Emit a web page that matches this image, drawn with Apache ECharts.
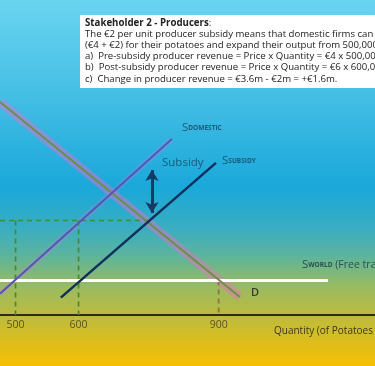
<!DOCTYPE html>
<html>
<head>
<meta charset="utf-8">
<script src="https://cdn.jsdelivr.net/npm/echarts@6/dist/echarts.min.js"></script>
<style>
html,body{margin:0;padding:0;width:375px;height:366px;overflow:hidden;}
#chart{width:375px;height:366px;}
</style>
</head>
<body>
<div id="chart"></div>
<script>
// ---- data (quantity in '000 potatoes, price in €) ----
const quantityTicks = [500, 600, 900];
const demandD = [[478, 9.95], [957, 3.45]];
const supplyDomestic = [[478, 3.56], [786, 8.72]];
const supplySubsidy = [[570, 3.43], [893, 7.92]];
const supplyWorld = [[478, 4], [1235, 4]];
const subsidyPriceLine = [[478, 6], [735, 6]];
const drop500 = [[500, 6], [500, 2.85]];
const drop600 = [[600, 6], [600, 2.85]];
const drop900 = [[900, 4], [900, 2.85]];
const subsidyArrow = [[742, 7.68], [742, 6.25]];
const xRange = [478, 1415];
const yRange = [2.85, 13.35];
const boxLines = [
  'The €2 per unit producer subsidy means that domestic firms can now receive €6',
  '(€4 + €2) for their potatoes and expand their output from 500,000 to 600,000 units.',
  'a)  Pre-subsidy producer revenue = Price x Quantity = €4 x 500,000 = €2m.',
  'b)  Post-subsidy producer revenue = Price x Quantity = €6 x 600,000 = €3.6m.',
  'c)  Change in producer revenue = €3.6m - €2m = +€1.6m.'
];
const FONT = '"Open Sans", "Noto Sans", sans-serif';
const labelColor = '#1a5a78';

const chart = echarts.init(document.getElementById('chart'));

function seg(data, color, width, dashed, z) {
  return {
    type: 'line', data: data, symbol: 'none', silent: true, z: z || 2,
    lineStyle: { color: color, width: width, type: dashed ? [5, 4] : 'solid', cap: 'butt' }
  };
}
function subRich(c, tSize) {
  return {
    s: { fontSize: 11.5, fontFamily: FONT, fill: c, verticalAlign: 'bottom' },
    sub: { fontSize: 6.5, fontWeight: 'bold', fontFamily: FONT, fill: c, verticalAlign: 'bottom', padding: [0, 0, 2, 0] },
    t: { fontSize: tSize || 10.5, fontFamily: FONT, fill: c, verticalAlign: 'bottom' }
  };
}

const textEls = [
  { type: 'rect', left: 80, top: 15, shape: { width: 300, height: 73 }, style: { fill: '#ffffff' }, z: 10 },
  { type: 'text', left: 85, top: 18, z: 11, style: {
      text: '{b|Stakeholder 2 - Producers}:', font: '9.7px ' + FONT, fill: '#222',
      rich: { b: { fontWeight: 'bold', fontSize: 9.7, fontFamily: FONT, fill: '#222' } } } }
];
boxLines.forEach(function (t, i) {
  textEls.push({ type: 'text', left: 85, top: 29 + i * 11.2, z: 11,
    style: { text: t, font: '9.6px ' + FONT, fill: '#222' } });
});
textEls.push(
  { type: 'text', left: 182, top: 122, z: 11, style: { text: '{s|S}{sub|DOMESTIC}', rich: subRich(labelColor) } },
  { type: 'text', left: 162, top: 157, z: 11, style: { text: 'Subsidy', font: '11.5px ' + FONT, fill: labelColor } },
  { type: 'text', left: 222, top: 155, z: 11, style: { text: '{s|S}{sub|SUBSIDY}', rich: subRich(labelColor) } },
  { type: 'text', left: 302, top: 259, z: 11, style: { text: '{s|S}{sub|WORLD}{t| (Free trade supply)}', rich: subRich('#2c4f50', 10.5) } },
  { type: 'text', left: 251, top: 287, z: 11, style: { text: 'D', font: '600 11px ' + FONT, fill: '#3a3a22' } },
  { type: 'text', left: 274, top: 326, z: 11, style: { text: "Quantity (of Potatoes '000)", font: '10px ' + FONT, fill: '#3a3822' } }
);

chart.setOption({
  animation: false,
  backgroundColor: {
    type: 'linear', x: 0, y: 0, x2: 0, y2: 1,
    colorStops: [
      { offset: 0, color: '#6ad4f0' },
      { offset: 0.25, color: '#46bfe5' },
      { offset: 0.51, color: '#1aa8da' },
      { offset: 0.62, color: '#38adc2' },
      { offset: 0.70, color: '#5db49c' },
      { offset: 0.78, color: '#97bb62' },
      { offset: 0.86, color: '#bcbb3e' },
      { offset: 1, color: '#f7c000' }
    ]
  },
  grid: { left: 0, right: 0, top: 0, bottom: 51 },
  xAxis: {
    type: 'log', logBase: 10, min: xRange[0], max: xRange[1],
    axisLine: { show: true, onZero: false, lineStyle: { color: '#2d2c1c', width: 2 } },
    axisTick: { show: false }, axisLabel: { show: false }, splitLine: { show: false }
  },
  yAxis: { type: 'value', min: yRange[0], max: yRange[1], show: false, splitLine: { show: false } },
  graphic: textEls,
  series: [
    seg(demandD, 'rgba(245,105,200,0.42)', 9, false, 1),
    seg(supplyDomestic, 'rgba(225,120,225,0.22)', 6, false, 1),
    seg(subsidyPriceLine, '#458a38', 1.7, true, 2),
    seg(drop500, '#4c8434', 1.7, true, 2),
    seg(drop600, '#4c8434', 1.7, true, 2),
    seg(drop900, '#8a7048', 1.7, true, 2),
    seg(supplyWorld, '#ffffff', 3, false, 3),
    seg(demandD, '#6e8c4c', 2, false, 4),
    seg(supplyDomestic, '#5456b8', 2, false, 4),
    seg(supplySubsidy, '#0f2f5c', 2.5, false, 4),
    {
      type: 'line', data: [], symbol: 'none', silent: true, z: 5,
      markLine: {
        silent: true, symbol: ['arrow', 'arrow'], symbolSize: [10, 11],
        label: { show: false },
        lineStyle: { color: '#163a66', width: 3, type: 'solid' },
        data: [[{ coord: subsidyArrow[0] }, { coord: subsidyArrow[1] }]]
      }
    },
    {
      type: 'scatter', silent: true, clip: false, symbolSize: 0,
      data: quantityTicks.map(function (q) { return [q, yRange[0]]; }),
      label: { show: true, position: 'bottom', distance: 5, formatter: function (p) { return String(p.value[0]); },
        fontSize: 10.5, fontFamily: FONT, color: '#3a3822' }
    }
  ]
});
</script>
</body>
</html>
